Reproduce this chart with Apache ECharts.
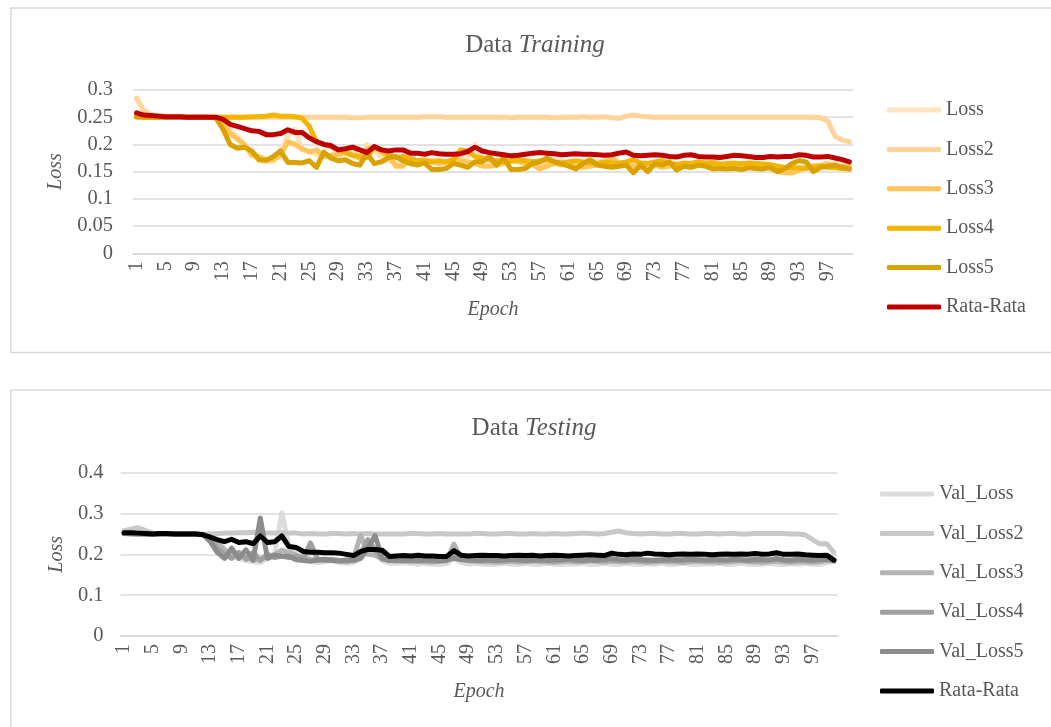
<!DOCTYPE html>
<html><head><meta charset="utf-8">
<script src="https://cdn.jsdelivr.net/npm/echarts@6/dist/echarts.min.js"></script>
<style>html,body{margin:0;padding:0;background:#fff;overflow:hidden}
#c1{position:absolute;left:0;top:0;width:1051px;height:380px}
#c2{position:absolute;left:0;top:380px;width:1051px;height:347px}</style>
</head><body><div id="c1"></div><div id="c2"></div>
<script>
const epochs = [1,2,3,4,5,6,7,8,9,10,11,12,13,14,15,16,17,18,19,20,21,22,23,24,25,26,27,28,29,30,31,32,33,34,35,36,37,38,39,40,41,42,43,44,45,46,47,48,49,50,51,52,53,54,55,56,57,58,59,60,61,62,63,64,65,66,67,68,69,70,71,72,73,74,75,76,77,78,79,80,81,82,83,84,85,86,87,88,89,90,91,92,93,94,95,96,97,98,99,100];

const trainNames = ['Loss','Loss2','Loss3','Loss4','Loss5','Rata-Rata'];
const testNames = ['Val_Loss','Val_Loss2','Val_Loss3','Val_Loss4','Val_Loss5','Rata-Rata'];

const loss = [0.252,0.251,0.251,0.250,0.250,0.250,0.250,0.250,0.250,0.250,
0.250,0.249,0.244,0.226,0.214,0.200,0.182,0.170,0.168,0.169,
0.190,0.215,0.228,0.190,0.188,0.182,0.178,0.175,0.180,0.183,
0.190,0.175,0.200,0.190,0.176,0.170,0.165,0.168,0.170,0.165,
0.168,0.172,0.168,0.165,0.170,0.175,0.176,0.200,0.172,0.168,
0.165,0.170,0.168,0.172,0.166,0.170,0.165,0.168,0.172,0.170,
0.166,0.168,0.165,0.170,0.168,0.172,0.175,0.168,0.165,0.163,
0.166,0.165,0.168,0.170,0.166,0.165,0.162,0.165,0.168,0.163,
0.165,0.162,0.160,0.163,0.165,0.162,0.160,0.158,0.162,0.160,
0.155,0.152,0.155,0.160,0.162,0.160,0.163,0.165,0.162,0.158];
const loss2 = [0.285,0.262,0.255,0.253,0.252,0.251,0.251,0.250,0.250,0.250,
0.250,0.250,0.250,0.250,0.250,0.250,0.250,0.250,0.250,0.250,
0.250,0.250,0.250,0.250,0.250,0.250,0.250,0.250,0.250,0.250,
0.249,0.249,0.250,0.250,0.250,0.250,0.250,0.250,0.250,0.250,
0.251,0.251,0.251,0.250,0.250,0.250,0.250,0.250,0.250,0.250,
0.250,0.250,0.249,0.250,0.250,0.250,0.250,0.250,0.249,0.250,
0.250,0.250,0.251,0.250,0.250,0.251,0.249,0.248,0.252,0.254,
0.252,0.251,0.250,0.250,0.250,0.250,0.250,0.250,0.250,0.250,
0.250,0.250,0.250,0.250,0.250,0.250,0.250,0.250,0.250,0.250,
0.250,0.250,0.250,0.250,0.250,0.249,0.243,0.215,0.208,0.205];
const loss3 = [0.250,0.250,0.250,0.250,0.250,0.250,0.250,0.250,0.250,0.250,
0.250,0.249,0.240,0.220,0.210,0.200,0.180,0.178,0.172,0.172,
0.180,0.205,0.200,0.192,0.186,0.190,0.178,0.180,0.182,0.186,
0.180,0.175,0.192,0.196,0.185,0.180,0.160,0.160,0.175,0.170,
0.172,0.168,0.165,0.168,0.172,0.170,0.168,0.165,0.160,0.160,
0.162,0.165,0.170,0.168,0.165,0.163,0.155,0.160,0.165,0.162,
0.163,0.160,0.158,0.160,0.162,0.165,0.175,0.165,0.162,0.160,
0.158,0.160,0.162,0.158,0.160,0.162,0.160,0.158,0.162,0.165,
0.168,0.165,0.160,0.162,0.165,0.163,0.160,0.158,0.156,0.150,
0.148,0.148,0.152,0.158,0.160,0.162,0.165,0.160,0.158,0.160];
const loss4 = [0.252,0.251,0.251,0.250,0.250,0.250,0.250,0.250,0.250,0.250,
0.250,0.250,0.250,0.250,0.250,0.250,0.251,0.251,0.252,0.254,
0.252,0.252,0.251,0.248,0.233,0.205,0.200,0.196,0.190,0.185,
0.180,0.178,0.176,0.195,0.190,0.182,0.176,0.178,0.173,0.170,
0.170,0.168,0.170,0.168,0.172,0.190,0.188,0.178,0.175,0.172,
0.170,0.168,0.170,0.172,0.170,0.168,0.170,0.172,0.168,0.166,
0.168,0.170,0.168,0.166,0.165,0.168,0.166,0.165,0.168,0.172,
0.166,0.165,0.168,0.170,0.165,0.163,0.166,0.165,0.168,0.166,
0.165,0.163,0.165,0.166,0.164,0.166,0.165,0.164,0.163,0.160,
0.158,0.157,0.157,0.156,0.158,0.160,0.158,0.157,0.156,0.155];
const loss5 = [0.251,0.250,0.250,0.250,0.250,0.250,0.250,0.250,0.250,0.250,
0.250,0.249,0.228,0.200,0.193,0.195,0.188,0.172,0.171,0.178,
0.188,0.167,0.167,0.166,0.170,0.158,0.186,0.175,0.170,0.172,
0.165,0.162,0.184,0.165,0.168,0.176,0.178,0.170,0.165,0.162,
0.166,0.154,0.154,0.156,0.165,0.162,0.158,0.168,0.168,0.178,
0.162,0.176,0.154,0.154,0.156,0.165,0.168,0.175,0.168,0.165,
0.160,0.155,0.165,0.172,0.162,0.160,0.158,0.160,0.162,0.148,
0.162,0.150,0.165,0.162,0.168,0.153,0.160,0.158,0.162,0.160,
0.155,0.156,0.155,0.156,0.154,0.157,0.156,0.155,0.158,0.150,
0.155,0.165,0.170,0.168,0.150,0.158,0.160,0.162,0.158,0.155];
const lossAvg = [0.258,0.254,0.253,0.252,0.251,0.251,0.251,0.250,0.250,0.250,
0.250,0.250,0.246,0.237,0.233,0.229,0.225,0.224,0.218,0.218,
0.220,0.227,0.222,0.222,0.212,0.205,0.200,0.198,0.190,0.192,
0.195,0.190,0.185,0.196,0.190,0.188,0.190,0.190,0.184,0.184,
0.182,0.185,0.183,0.182,0.182,0.183,0.187,0.195,0.188,0.185,
0.183,0.181,0.179,0.180,0.182,0.184,0.185,0.184,0.183,0.181,
0.182,0.183,0.182,0.182,0.181,0.180,0.181,0.184,0.186,0.180,
0.179,0.180,0.181,0.180,0.178,0.177,0.180,0.181,0.178,0.177,
0.177,0.176,0.178,0.180,0.179,0.178,0.176,0.176,0.178,0.177,
0.178,0.178,0.181,0.180,0.177,0.177,0.178,0.175,0.172,0.168];

const valLoss = [0.255,0.256,0.254,0.252,0.251,0.250,0.250,0.250,0.250,0.250,
0.250,0.248,0.240,0.225,0.210,0.195,0.190,0.185,0.182,0.180,
0.190,0.200,0.302,0.220,0.200,0.190,0.185,0.180,0.182,0.185,
0.180,0.178,0.180,0.190,0.222,0.200,0.185,0.178,0.178,0.180,
0.178,0.176,0.178,0.176,0.175,0.178,0.190,0.180,0.176,0.178,
0.176,0.175,0.176,0.178,0.176,0.175,0.178,0.176,0.175,0.178,
0.176,0.175,0.177,0.176,0.178,0.175,0.176,0.178,0.176,0.175,
0.178,0.176,0.175,0.177,0.176,0.178,0.175,0.176,0.178,0.176,
0.175,0.177,0.176,0.178,0.175,0.176,0.178,0.176,0.175,0.176,
0.178,0.176,0.175,0.177,0.176,0.178,0.176,0.175,0.180,0.182];
const valLoss2 = [0.258,0.262,0.265,0.258,0.252,0.251,0.250,0.250,0.250,0.250,
0.250,0.250,0.250,0.251,0.252,0.252,0.253,0.253,0.254,0.253,
0.252,0.252,0.253,0.252,0.252,0.250,0.251,0.250,0.250,0.251,
0.251,0.250,0.251,0.250,0.251,0.250,0.250,0.250,0.250,0.250,
0.251,0.251,0.250,0.250,0.251,0.250,0.250,0.250,0.250,0.251,
0.251,0.250,0.250,0.251,0.251,0.250,0.250,0.251,0.250,0.250,
0.251,0.250,0.250,0.251,0.252,0.251,0.250,0.251,0.254,0.257,
0.253,0.251,0.250,0.251,0.251,0.250,0.250,0.251,0.251,0.250,
0.250,0.251,0.251,0.250,0.251,0.251,0.250,0.250,0.251,0.251,
0.251,0.251,0.251,0.250,0.250,0.248,0.236,0.226,0.226,0.205];
const valLoss3 = [0.252,0.252,0.251,0.250,0.250,0.250,0.250,0.250,0.250,0.250,
0.250,0.248,0.243,0.230,0.212,0.200,0.195,0.192,0.186,0.188,
0.195,0.200,0.210,0.205,0.198,0.192,0.188,0.185,0.186,0.188,
0.185,0.182,0.190,0.248,0.200,0.198,0.190,0.185,0.183,0.184,
0.182,0.183,0.182,0.181,0.183,0.184,0.225,0.190,0.184,0.183,
0.182,0.181,0.180,0.182,0.183,0.181,0.182,0.184,0.182,0.181,
0.180,0.182,0.183,0.181,0.182,0.184,0.182,0.181,0.183,0.182,
0.181,0.183,0.182,0.180,0.181,0.183,0.182,0.181,0.180,0.182,
0.183,0.181,0.182,0.180,0.181,0.182,0.184,0.182,0.181,0.180,
0.182,0.183,0.181,0.180,0.182,0.181,0.180,0.182,0.184,0.186];
const valLoss4 = [0.251,0.251,0.250,0.250,0.250,0.250,0.250,0.250,0.250,0.250,
0.250,0.248,0.238,0.215,0.200,0.190,0.205,0.188,0.205,0.185,
0.200,0.192,0.195,0.192,0.195,0.190,0.228,0.188,0.185,0.186,
0.184,0.183,0.185,0.200,0.236,0.210,0.188,0.186,0.185,0.186,
0.185,0.184,0.185,0.183,0.184,0.186,0.195,0.188,0.186,0.185,
0.184,0.186,0.185,0.184,0.186,0.188,0.185,0.184,0.186,0.185,
0.184,0.186,0.188,0.185,0.184,0.186,0.185,0.187,0.186,0.185,
0.186,0.188,0.185,0.184,0.186,0.185,0.184,0.186,0.185,0.187,
0.186,0.185,0.184,0.186,0.185,0.187,0.186,0.185,0.184,0.186,
0.186,0.188,0.185,0.184,0.186,0.185,0.184,0.186,0.188,0.186];
const valLoss5 = [0.251,0.250,0.250,0.250,0.250,0.250,0.250,0.250,0.250,0.250,
0.250,0.248,0.232,0.205,0.190,0.215,0.190,0.211,0.186,0.289,
0.190,0.198,0.196,0.195,0.187,0.185,0.183,0.186,0.188,0.185,
0.184,0.186,0.185,0.190,0.215,0.246,0.190,0.185,0.186,0.184,
0.186,0.185,0.187,0.186,0.184,0.186,0.190,0.187,0.186,0.185,
0.187,0.186,0.185,0.187,0.188,0.186,0.185,0.187,0.186,0.185,
0.187,0.186,0.188,0.186,0.185,0.187,0.186,0.188,0.190,0.187,
0.186,0.188,0.187,0.186,0.185,0.187,0.188,0.186,0.187,0.188,
0.187,0.186,0.188,0.187,0.186,0.188,0.187,0.186,0.188,0.187,
0.186,0.190,0.187,0.186,0.188,0.187,0.186,0.187,0.188,0.184];
const valAvg = [0.253,0.253,0.252,0.251,0.250,0.251,0.251,0.250,0.250,0.250,
0.250,0.248,0.242,0.236,0.231,0.237,0.229,0.231,0.226,0.245,
0.229,0.231,0.245,0.219,0.217,0.207,0.205,0.205,0.204,0.204,
0.203,0.200,0.197,0.207,0.212,0.212,0.210,0.195,0.196,0.197,
0.196,0.198,0.196,0.196,0.195,0.195,0.209,0.198,0.196,0.197,
0.198,0.197,0.197,0.196,0.197,0.198,0.197,0.198,0.196,0.197,
0.198,0.197,0.196,0.197,0.198,0.199,0.198,0.197,0.203,0.200,
0.199,0.201,0.200,0.203,0.201,0.200,0.199,0.200,0.201,0.200,
0.201,0.200,0.199,0.200,0.201,0.200,0.201,0.200,0.202,0.200,
0.201,0.204,0.200,0.200,0.201,0.199,0.198,0.197,0.198,0.186];

const trainColors = ['#FFE2BE','#FFD49A','#FFC55A','#F2B500','#D9A200','#C00000'];
const testColors = ['#DCDCDC','#C8C8C8','#B4B4B4','#A0A0A0','#8C8C8C','#000000'];

const FONT = 'Liberation Serif';
const TXT = '#595959';

function buildOption(cfg) {
  const series = cfg.data.map((d, k) => ({
    type: 'line', name: cfg.names[k], data: d, symbol: 'none', showSymbol: false,
    lineStyle: { width: 5, color: cfg.colors[k], cap: 'round', join: 'round' },
    itemStyle: { color: cfg.colors[k] }, emphasis: { disabled: true }, animation: false
  }));
  return {
    animation: false,
    textStyle: { fontFamily: FONT, color: TXT },
    graphic: [{ type: 'rect', shape: cfg.box, style: { fill: 'none', stroke: '#D9D9D9', lineWidth: 1.5 }, silent: true }],
    title: {
      text: '{a|Data }{b|' + cfg.titleItalic + '}', left: cfg.titleX, top: cfg.titleTop, textAlign: 'center', padding: 0,
      textStyle: { fontWeight: 'normal', rich: {
        a: { fontFamily: FONT, fontSize: 25, color: TXT, fontWeight: 'normal' },
        b: { fontFamily: FONT, fontSize: 25, color: TXT, fontStyle: 'italic', fontWeight: 'normal' }
      } }
    },
    legend: {
      orient: 'vertical', left: cfg.legendLeft, top: cfg.legendTop, itemWidth: 54, itemHeight: 5, itemGap: 19.4,
      icon: 'roundRect', padding: 0, selectedMode: false,
      textStyle: { fontFamily: FONT, fontSize: 20, color: TXT, lineHeight: 20 },
      data: cfg.names
    },
    grid: { left: cfg.grid.left, top: cfg.grid.top, width: cfg.grid.width, height: cfg.grid.height },
    xAxis: {
      type: 'category', data: epochs, boundaryGap: true,
      name: 'Epoch', nameLocation: 'middle', nameGap: cfg.xNameGap,
      nameTextStyle: { fontFamily: FONT, fontSize: 20, fontStyle: 'italic', color: TXT },
      axisLine: { show: true, lineStyle: { color: '#D9D9D9', width: 1.5 } },
      axisTick: { show: false },
      axisLabel: { interval: 3, rotate: 90, margin: 8, fontFamily: FONT, fontSize: 20, color: TXT }
    },
    yAxis: {
      type: 'value', min: 0, max: cfg.yMax, interval: cfg.yInterval,
      name: 'Loss', nameLocation: 'middle', nameGap: cfg.yNameGap,
      nameTextStyle: { fontFamily: FONT, fontSize: 20, fontStyle: 'italic', color: TXT },
      axisLine: { show: false }, axisTick: { show: false },
      splitLine: { lineStyle: { color: '#D9D9D9', width: 1.5 } },
      axisLabel: { margin: cfg.yLabelMargin, fontFamily: FONT, fontSize: 20.5, color: TXT,
        formatter: v => String(+v.toFixed(2)) }
    },
    series: series
  };
}

const c1 = echarts.init(document.getElementById('c1'), null, { renderer: 'canvas' });
c1.setOption(buildOption({
  names: trainNames, colors: trainColors,
  data: [loss, loss2, loss3, loss4, loss5, lossAvg],
  box: { x: 11, y: 8, width: 1060, height: 344.5 },
  titleItalic: 'Training', titleX: 535, titleTop: 33,
  legendLeft: 887, legendTop: 100,
  grid: { left: 133, top: 90, width: 720, height: 163.3 },
  yMax: 0.3, yInterval: 0.05, yLabelMargin: 20, yNameGap: 66, xNameGap: 46
}));

const c2 = echarts.init(document.getElementById('c2'), null, { renderer: 'canvas' });
c2.setOption(buildOption({
  names: testNames, colors: testColors,
  data: [valLoss, valLoss2, valLoss3, valLoss4, valLoss5, valAvg],
  box: { x: 11, y: 10, width: 1060, height: 400 },
  titleItalic: 'Testing', titleX: 534, titleTop: 36,
  legendLeft: 880, legendTop: 104,
  grid: { left: 120.5, top: 92.7, width: 717, height: 163.3 },
  yMax: 0.4, yInterval: 0.1, yLabelMargin: 17, yNameGap: 53, xNameGap: 46
}));
</script></body></html>
